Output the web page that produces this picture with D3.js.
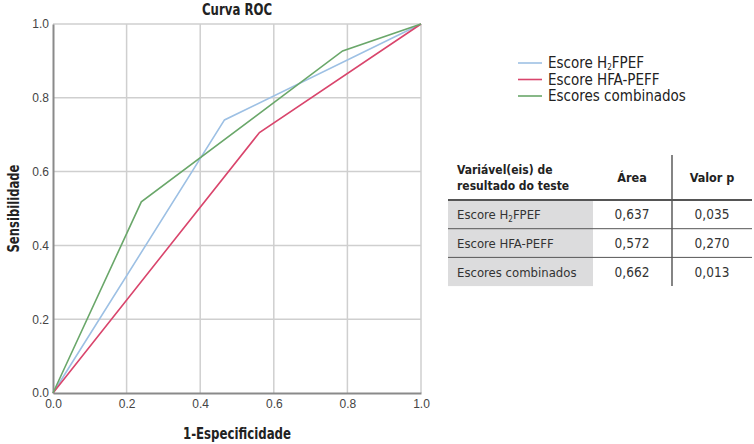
<!DOCTYPE html>
<html>
<head>
<meta charset="utf-8">
<script src="https://cdn.jsdelivr.net/npm/d3@7"></script>
<style>
  body { margin: 0; background: #fff; }
  svg { display: block; }
  .cond { font-family: "Liberation Sans Narrow", "DejaVu Sans Condensed", "Roboto", sans-serif; }
</style>
</head>
<body>
<div id="chart"></div>
<script>
// ROC curves: x = 1-especificidade, y = sensibilidade
const seriesNames = ["Escore H2FPEF", "Escore HFA-PEFF", "Escores combinados"];
const seriesColors = ["#9dc0e4", "#d9456c", "#6aa76a"];
const h2fpefX = [0, 0.466, 1];
const h2fpefY = [0, 0.740, 1];
const hfaX = [0, 0.561, 1];
const hfaY = [0, 0.706, 1];
const combX = [0, 0.240, 0.787, 1];
const combY = [0, 0.518, 0.927, 1];
const tickValues = [0, 0.2, 0.4, 0.6, 0.8, 1.0];

// table
const tableHeader = ["Variável(eis) de|resultado do teste", "Área", "Valor p"];
const tableAreas = ["0,637", "0,572", "0,662"];
const tablePvals = ["0,035", "0,270", "0,013"];

const width = 754, height = 444;
const margin = {left: 53, top: 24, right: 333, bottom: 51};
const plotW = width - margin.left - margin.right;
const plotH = height - margin.top - margin.bottom;

const svg = d3.select("#chart").append("svg")
    .attr("width", width)
    .attr("height", height);

const x = d3.scaleLinear().domain([0, 1]).range([margin.left, margin.left + plotW]);
const y = d3.scaleLinear().domain([0, 1]).range([margin.top + plotH, margin.top]);

// grid
const grid = svg.append("g");
grid.selectAll(".gx").data(tickValues.slice(1)).enter().append("line")
    .attr("x1", d => x(d)).attr("x2", d => x(d))
    .attr("y1", y(0)).attr("y2", y(1))
    .attr("stroke", "#cfcfcf").attr("stroke-width", 1.5);
grid.selectAll(".gy").data(tickValues.slice(1)).enter().append("line")
    .attr("y1", d => y(d)).attr("y2", d => y(d))
    .attr("x1", x(0)).attr("x2", x(1))
    .attr("stroke", "#cfcfcf").attr("stroke-width", 1.5);

// axes
const xAxis = svg.append("g")
    .attr("transform", `translate(0,${y(0)})`)
    .call(d3.axisBottom(x).tickValues(tickValues).tickFormat(d3.format(".1f")).tickSize(0).tickPadding(6));
const yAxis = svg.append("g")
    .attr("transform", `translate(${x(0)},0)`)
    .call(d3.axisLeft(y).tickValues(tickValues).tickFormat(d3.format(".1f")).tickSize(0).tickPadding(4));
[xAxis, yAxis].forEach(a => {
    a.select(".domain").attr("stroke", "#8a8a8a").attr("stroke-width", 2);
    a.selectAll("text").attr("fill", "#444").style("font-family", "Liberation Sans, Arial, sans-serif").style("font-size", "12px");
});

// lines
const line = d3.line().x(d => x(d[0])).y(d => y(d[1]));
const seriesData = [
    d3.zip(h2fpefX, h2fpefY),
    d3.zip(hfaX, hfaY),
    d3.zip(combX, combY)
];
svg.selectAll(".roc").data(seriesData).enter().append("path")
    .attr("d", line)
    .attr("fill", "none")
    .attr("stroke", (d, i) => seriesColors[i])
    .attr("stroke-width", 1.6);

// titles
svg.append("text").attr("class", "cond")
    .attr("x", x(0.5)).attr("y", 15)
    .attr("text-anchor", "middle")
    .attr("textLength", 70).attr("lengthAdjust", "spacingAndGlyphs")
    .style("font-weight", "bold").style("font-size", "15px").attr("fill", "#222")
    .text("Curva ROC");
svg.append("text").attr("class", "cond")
    .attr("x", x(0.5)).attr("y", 439)
    .attr("text-anchor", "middle")
    .attr("textLength", 108).attr("lengthAdjust", "spacingAndGlyphs")
    .style("font-weight", "bold").style("font-size", "16px").attr("fill", "#222")
    .text("1-Especificidade");
svg.append("text").attr("class", "cond")
    .attr("transform", `translate(19,${y(0.5)}) rotate(-90)`)
    .attr("text-anchor", "middle")
    .attr("textLength", 88).attr("lengthAdjust", "spacingAndGlyphs")
    .style("font-weight", "bold").style("font-size", "16px").attr("fill", "#222")
    .text("Sensibilidade");

// helper for the H2 subscript
function writeName(sel, name, subSize, shift) {
    if (name.indexOf("H2") >= 0) {
        const parts = name.split("H2");
        sel.append("tspan").text(parts[0] + "H");
        sel.append("tspan").attr("dy", shift).style("font-size", subSize).text("2");
        sel.append("tspan").attr("dy", -shift).text(parts[1]);
    } else {
        sel.text(name);
    }
}

// legend
const legend = svg.append("g").attr("transform", "translate(518,63)");
seriesNames.forEach((name, i) => {
    const g = legend.append("g").attr("transform", `translate(0,${i * 16.5})`);
    g.append("line").attr("x1", 0).attr("x2", 24).attr("y1", 0).attr("y2", 0)
        .attr("stroke", seriesColors[i]).attr("stroke-width", 1.6);
    const t = g.append("text").attr("class", "cond")
        .attr("x", 30).attr("y", 5)
        .style("font-size", "15px").attr("fill", "#222");
    writeName(t, name, "8px", 2);
});

// table
const tbl = svg.append("g");
const tLeft = 448, tRight = 752, grayRight = 593, vLine = 672;
const colCenters = [632, 712];
const rowTop = 200, rowH = 28.7;

tbl.selectAll(".gray").data(seriesNames).enter().append("rect")
    .attr("x", tLeft).attr("y", (d, i) => rowTop + i * rowH)
    .attr("width", grayRight - tLeft).attr("height", rowH)
    .attr("fill", "#dcdcdd");

tbl.append("line").attr("x1", vLine).attr("x2", vLine)
    .attr("y1", 155).attr("y2", rowTop + 3 * rowH)
    .attr("stroke", "#333").attr("stroke-width", 1.2);

tbl.append("line").attr("x1", tLeft).attr("x2", tRight)
    .attr("y1", rowTop).attr("y2", rowTop)
    .attr("stroke", "#555").attr("stroke-width", 2);
[1, 2].forEach(k => {
    tbl.append("line").attr("x1", tLeft).attr("x2", tRight)
        .attr("y1", rowTop + k * rowH).attr("y2", rowTop + k * rowH)
        .attr("stroke", "#555").attr("stroke-width", 1);
});

// header
const h0 = tableHeader[0].split("|");
h0.forEach((s, i) => {
    tbl.append("text").attr("class", "cond")
        .attr("x", tLeft + 9).attr("y", 174 + i * 15.5)
        .style("font-weight", "bold").style("font-size", "12px").attr("fill", "#222")
        .text(s);
});
tableHeader.slice(1).forEach((s, i) => {
    tbl.append("text").attr("class", "cond")
        .attr("x", colCenters[i]).attr("y", 182)
        .attr("text-anchor", "middle")
        .style("font-weight", "bold").style("font-size", "12.5px").attr("fill", "#222")
        .text(s);
});

// body rows
seriesNames.forEach((name, i) => {
    const cy = rowTop + i * rowH + rowH / 2 + 5;
    const t = tbl.append("text").attr("class", "cond")
        .attr("x", tLeft + 9).attr("y", cy)
        .style("font-size", "13px").attr("fill", "#333");
    writeName(t, name, "8px", 3);
    tbl.append("text").attr("class", "cond")
        .attr("x", colCenters[0]).attr("y", cy).attr("text-anchor", "middle")
        .style("font-size", "13.5px").attr("fill", "#333").text(tableAreas[i]);
    tbl.append("text").attr("class", "cond")
        .attr("x", colCenters[1]).attr("y", cy).attr("text-anchor", "middle")
        .style("font-size", "13.5px").attr("fill", "#333").text(tablePvals[i]);
});
</script>
</body>
</html>
